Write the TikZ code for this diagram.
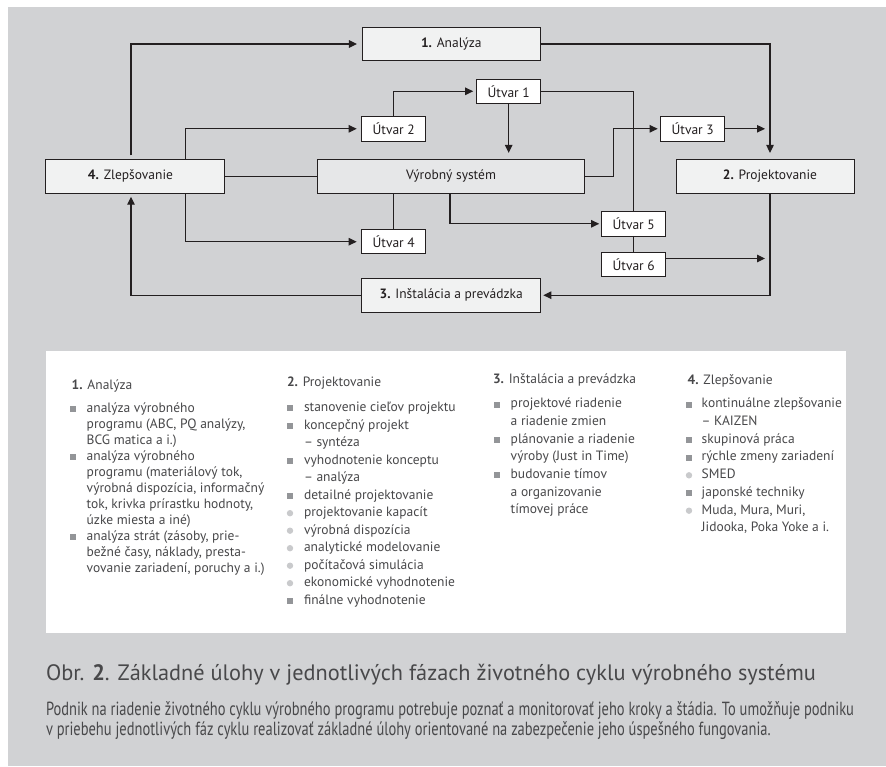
\documentclass[tikz,border=0pt]{standalone}
\usepackage{fontspec}
\setmainfont{PT Sans}
\usepackage{graphicx}
\usetikzlibrary{arrows.meta}

\definecolor{pagebg}{HTML}{D1D2D4}
\definecolor{stagefill}{HTML}{F1F2F2}
\definecolor{sysfill}{HTML}{E6E7E8}
\definecolor{ink}{HTML}{231F20}
\definecolor{bodytext}{HTML}{48484A}
\definecolor{sqbul}{HTML}{939598}
\definecolor{dotbul}{HTML}{C9CACC}

\newlength\paranatw
\newcommand\paralineone{Podnik na riadenie životného cyklu výrobného programu potrebuje poznať a monitorovať jeho kroky a štádia. To umožňuje podniku}
\newcommand\paralinetwo{v priebehu jednotlivých fáz cyklu realizovať základné úlohy orientované na zabezpečenie jeho úspešného fungovania.}
\newcommand\parafont{\fontsize{19}{22}\selectfont}
% both description lines share the squeeze that makes the first one 808pt wide
\newcommand\scaledpara[1]{%
  \settowidth{\paranatw}{\parafont\paralineone}%
  \pgfmathsetmacro\parasx{808/\paranatw}%
  \scalebox{\parasx}[1]{\parafont #1}}

\begin{document}
\begin{tikzpicture}[x=1pt,y=-1pt,
  every node/.style={inner sep=0pt,outer sep=0pt},
  box/.style={draw=ink,line width=0.8pt,text=ink,font=\fontsize{13.5}{16}\selectfont},
  stage/.style={box,fill=stagefill,minimum height=33.6pt},
  system/.style={box,fill=sysfill,minimum height=33.6pt,minimum width=266.6pt},
  unit/.style={box,fill=white,minimum width=64pt,minimum height=24.3pt},
  link/.style={draw=ink,line width=1.1pt},
  flow/.style={link,-{Triangle[length=8pt,width=7.5pt]}},
  listtxt/.style={anchor=base west,text=bodytext,font=\fontsize{13.5}{16}\selectfont},
  sqmark/.style={fill=sqbul},
  dotmark/.style={fill=dotbul},
]
% page, grey field and white list panel
\useasboundingbox (0,0) rectangle (886,766);
\fill[white] (0,0) rectangle (886,766);
\fill[pagebg] (8,7) rectangle (886,766);
\fill[white] (46,350.7) rectangle (845.7,633.3);

% life-cycle phases and the production system
\node[stage,minimum width=178.7pt] (analyza) at (451.3,44) {\textbf{1.} Analýza};
\node[stage,minimum width=178.6pt] (zlep) at (135,176.2) {\hspace*{-9pt}\textbf{4.} Zlepšovanie};
\node[system] (vyrob) at (451,176.2) {Výrobný systém};
\node[stage,minimum width=177.6pt] (projekt) at (765.5,176.2) {\textbf{2.} Projektovanie\hspace*{-9pt}};
\node[stage,minimum width=179pt] (instal) at (451.2,295.2) {\textbf{3.} Inštalácia a prevádzka};

% departments
\node[unit] (u1) at (508.7,91.3) {Útvar 1};
\node[unit] (u2) at (393.7,128.8) {Útvar 2};
\node[unit] (u3) at (692.7,128.8) {Útvar 3};
\node[unit] (u4) at (393.7,241.7) {Útvar 4};
\node[unit] (u5) at (633.7,223.8) {Útvar 5};
\node[unit] (u6) at (633.7,264.5) {Útvar 6};

\coordinate (u3end) at (765,128.8);
\coordinate (u6end) at (765,258.5);

% connectors
\draw[flow,shorten <=4pt,shorten >=5pt] ([xshift=-4pt]zlep.north) |- (analyza.west);
\draw[flow,shorten >=6.5pt] (analyza.east) -| ([xshift=4.5pt]projekt.north);
\draw[flow,shorten >=3.5pt] (u2.north) |- (u1.west);
\draw[flow,shorten >=6.5pt] (u1.south) -- (u1.south |- vyrob.north);
\draw[link] (u1.east) -| (u5.north);
\draw[flow,shorten >=5pt] ([xshift=50.3pt]zlep.north) |- (u2.west);
\draw[link] (zlep.east) -- (vyrob.west);
\draw[flow,shorten >=5pt] ([xshift=50.3pt]zlep.south) |- (u4.west);
\draw[link] (u4.north) -- (u4.north |- vyrob.south);
\draw[flow,shorten >=2.5pt] ([xshift=-1pt]vyrob.south) |- (u5.west);
\draw[flow,shorten >=3pt] (vyrob.east) -- ++(29,0) |- (u3.west);
\draw[link] (u5.south) -- (u6.north);
\draw[flow] (u3.east) -- (u3end);
\draw[flow] ([yshift=6pt]u6.east) -- (u6end);
\draw[flow,shorten >=2.6pt] ([xshift=4.5pt]projekt.south) |- (instal.east);
\draw[flow,shorten >=3.7pt] (instal.west) -| ([xshift=-4pt]zlep.south);

% column 1: analysis
\node[listtxt] (h1) at (71.7,389.5) {\textbf{1.} Analýza};
\foreach \t [count=\i from 0] in {analýza výrobného,{programu (ABC, PQ analýzy,},BCG matica a i.),
  analýza výrobného,{programu (materiálový tok,},{výrobná dispozícia, informačný},
  {tok, krivka prírastku hodnoty,},úzke miesta a iné),{analýza strát (zásoby, prie-},
  {bežné časy, náklady, presta-},{vovanie zariadení, poruchy a i.)}}
  \node[listtxt] (c1l\i) at (86.7,{412.5+16*\i}) {\t};
\foreach \i in {0,3,8}
  \fill[sqmark] (73.4,{409.2+16*\i}) ++(-3,-3) rectangle ++(6,6);

% column 2: design
\node[listtxt] (h2) at (287,386) {\textbf{2.} Projektovanie};
\foreach \t [count=\i from 0] in {stanovenie cieľov projektu,koncepčný projekt,– syntéza,
  vyhodnotenie konceptu,– analýza,detailné projektovanie,projektovanie kapacít,
  výrobná dispozícia,analytické modelovanie,počítačová simulácia,
  ekonomické vyhodnotenie,finálne vyhodnotenie}
  \node[listtxt] (c2l\i) at (304,{411.5+17.5*\i}) {\t};
\foreach \i in {0,1,3,5,11}
  \fill[sqmark] (290,{408.2+17.5*\i}) ++(-3,-3) rectangle ++(6,6);
\foreach \i in {6,...,10}
  \fill[dotmark] (290,{408.2+17.5*\i}) circle[radius=3.2pt];

% column 3: installation and operation
\node[listtxt] (h3) at (493,383) {\textbf{3.} Inštalácia a prevádzka};
\foreach \t [count=\i from 0] in {projektové riadenie,a riadenie zmien,plánovanie a riadenie,
  výroby (Just in Time),budovanie tímov,a organizovanie,tímovej práce}
  \node[listtxt] (c3l\i) at (510.7,{407.8+17.65*\i}) {\t};
\foreach \i in {0,2,4}
  \fill[sqmark] (496.5,{404.5+17.65*\i}) ++(-3,-3) rectangle ++(6,6);

% column 4: improvement
\node[listtxt] (h4) at (687.7,384) {\textbf{4.} Zlepšovanie};
\foreach \t [count=\i from 0] in {kontinuálne zlepšovanie,– KAIZEN,skupinová práca,
  rýchle zmeny zariadení,SMED,japonské techniky,{Muda, Mura, Muri,},{Jidooka, Poka Yoke a i.}}
  \node[listtxt] (c4l\i) at (701.7,{407.8+17.7*\i}) {\t};
\foreach \i in {0,2,3,5}
  \fill[sqmark] (689,{404.5+17.7*\i}) ++(-3,-3) rectangle ++(6,6);
\foreach \i in {4,6}
  \fill[dotmark] (689,{404.5+17.7*\i}) circle[radius=3.2pt];

% caption and description
\node[anchor=base west,text=bodytext] (caption) at (46,680)
  {\resizebox{770pt}{!}{\fontsize{21}{25}\selectfont Obr. \textbf{2}. Základné úlohy v jednotlivých fázach životného cyklu výrobného systému}};
\node[anchor=base west,text=bodytext] (para1) at (46,715) {\scaledpara{\paralineone}};
\node[anchor=base west,text=bodytext] (para2) at (46,735.5) {\scaledpara{\paralinetwo}};
\end{tikzpicture}
\end{document}
